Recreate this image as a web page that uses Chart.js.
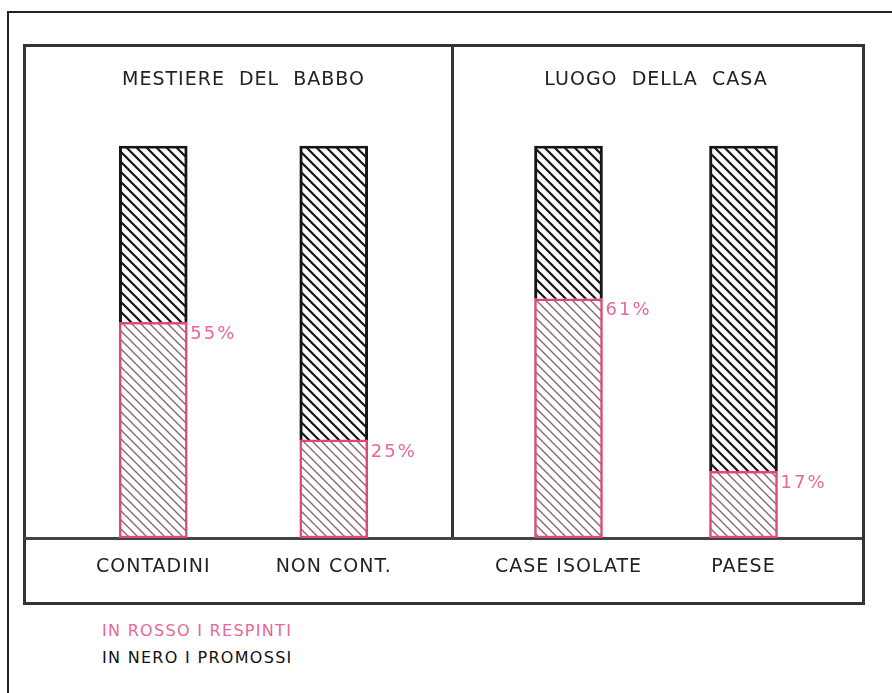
<!DOCTYPE html>
<html>
<head>
<meta charset="utf-8">
<script src="https://cdn.jsdelivr.net/npm/chart.js@4.4.1/dist/chart.umd.min.js"></script>
<style>
  body { margin: 0; background: #fff; width: 892px; height: 693px; position: relative; overflow: hidden; font-family: "DejaVu Sans", sans-serif; }
  #cornice { position: absolute; left: 7px; top: 11px; width: 900px; height: 700px; border-left: 2px solid #222; border-top: 2px solid #222; }
  #pannello { position: absolute; left: 23px; top: 44px; width: 836px; height: 555px; border: 3px solid #333; }
  #divisore { position: absolute; left: 451px; top: 45px; width: 3px; height: 494px; background: #333; }
  #base { position: absolute; left: 24px; top: 537px; width: 838px; height: 3px; background: #444; }
  canvas { position: absolute; }
  .leg { position: absolute; left: 102px; font-size: 16px; letter-spacing: 1.3px; }
</style>
</head>
<body>
<div id="cornice"></div>
<div id="pannello"></div>
<div id="divisore"></div>
<div id="base"></div>
<canvas id="babbo" width="428" height="558" style="left:24px;top:45px"></canvas>
<canvas id="casa" width="410" height="558" style="left:452px;top:45px"></canvas>
<div class="leg" style="top:621px;color:#e8679a">IN ROSSO I RESPINTI</div>
<div class="leg" style="top:648px;color:#111">IN NERO I PROMOSSI</div>
<script>
// dati (percentuali)
const categorieBabbo = ['CONTADINI', 'NON CONT.'];
const respintiBabbo = [55, 25];
const promossiBabbo = [45, 75];

const categorieCasa = ['CASE ISOLATE', 'PAESE'];
const respintiCasa = [61, 17];
const promossiCasa = [39, 83];

const FONT = '"DejaVu Sans", sans-serif';
const ROSA = '#e0467a';
const ROSA_TESTO = '#e8679a';

function tratteggio(sfondo, colore, spessore, passo) {
    let c = document.createElement('canvas');
    c.width = passo;
    c.height = passo;
    let x = c.getContext('2d');
    x.fillStyle = sfondo;
    x.fillRect(0, 0, passo, passo);
    x.strokeStyle = colore;
    x.lineWidth = spessore;
    x.beginPath();
    for (let k = -passo; k <= passo; k += passo) {
        x.moveTo(-1, k - 1);
        x.lineTo(passo + 1, passo + k + 1);
    }
    x.stroke();
    return x.createPattern(c, 'repeat');
}

// spaziatura delle lettere come nel disegno a normografo
const spaziatura = {
    id: 'spaziatura',
    beforeDraw(chart) {
        chart.ctx.letterSpacing = '1px';
    }
};

const percentuali = {
    id: 'percentuali',
    afterDatasetsDraw(chart) {
        let ctx = chart.ctx;
        let meta = chart.getDatasetMeta(0);
        ctx.save();
        ctx.letterSpacing = '2px';
        ctx.font = '18px ' + FONT;
        ctx.fillStyle = ROSA_TESTO;
        ctx.textBaseline = 'middle';
        ctx.textAlign = 'left';
        meta.data.forEach(function (bar, i) {
            ctx.fillText(chart.data.datasets[0].data[i] + '%', bar.x + bar.width / 2 + 3, bar.y + 12);
        });
        ctx.restore();
    }
};

function grafico(id, titolo, categorie, respinti, promossi, sx, dx) {
    let canvas = document.getElementById(id);
    new Chart(canvas, {
        type: 'bar',
        data: {
            labels: categorie,
            datasets: [
                {
                    label: 'RESPINTI',
                    data: respinti,
                    backgroundColor: tratteggio('#fff', '#86606e', 1.3, 9),
                    borderColor: ROSA,
                    borderWidth: 2.5,
                    borderSkipped: false,
                    barThickness: 68
                },
                {
                    label: 'PROMOSSI',
                    data: promossi,
                    backgroundColor: tratteggio('#fff', '#151515', 2.2, 10),
                    borderColor: '#151515',
                    borderWidth: 3,
                    borderSkipped: 'bottom',
                    barThickness: 68
                }
            ]
        },
        options: {
            responsive: false,
            animation: false,
            layout: { padding: { left: sx, right: dx, top: 0, bottom: 0 } },
            plugins: {
                legend: { display: false },
                tooltip: { enabled: false },
                title: {
                    display: true,
                    text: titolo,
                    color: '#222',
                    font: { family: FONT, size: 19, weight: 'normal' },
                    padding: { top: 24, bottom: 54 }
                }
            },
            scales: {
                x: {
                    stacked: true,
                    grid: { display: false, drawTicks: false },
                    border: { display: false },
                    ticks: { color: '#222', font: { family: FONT, size: 19 }, padding: 18 },
                    afterFit: function (s) { s.height = 65; }
                },
                y: { stacked: true, display: false, min: 0, max: 100 }
            }
        },
        plugins: [spaziatura, percentuali]
    });
}

grafico('babbo', 'MESTIERE  DEL  BABBO', categorieBabbo, respintiBabbo, promossiBabbo, 39, 28);
grafico('casa', 'LUOGO  DELLA  CASA', categorieCasa, respintiCasa, promossiCasa, 29, 31);
</script>
</body>
</html>
